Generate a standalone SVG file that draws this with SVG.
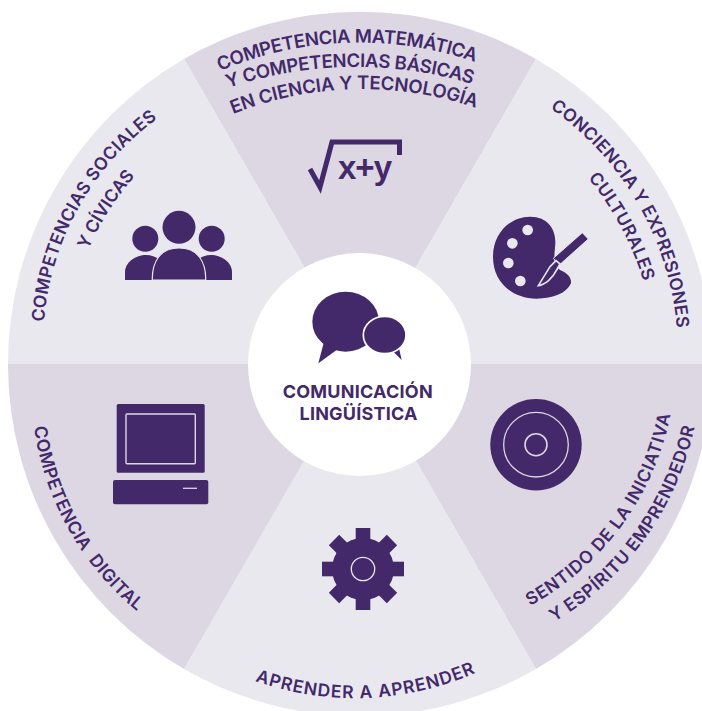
<svg xmlns="http://www.w3.org/2000/svg" width="702" height="711" viewBox="0 0 702 711">
<style>
.d{fill:#DCD7E3}.l{fill:#E9E8EF}.p{fill:#43296A}
text{font-family:Inter,"Noto Sans","Liberation Sans",sans-serif;font-weight:600;fill:#43296A;white-space:pre}
.a{font-size:18.5px}.b{font-size:17.5px}
</style>
<defs>
<path id="t1" d="M220 71 A355 355 0 0 1 475 62"/>
<path id="t2" d="M228 88 A400 400 0 0 1 472 84"/>
<path id="t3" d="M233 114 A350 350 0 0 1 476 108"/>
<path id="t4" d="M550 108 A300 300 0 0 1 677 330"/>
<path id="t5" d="M588 178 A300 300 0 0 1 643 280"/>
<path id="t6" d="M44 322 A280 280 0 0 1 158 118"/>
<path id="t7" d="M88 250 A280 280 0 0 1 135 176"/>
<path id="t8" d="M530 606 A280 280 0 0 0 671 412"/>
<path id="t9" d="M554 622 A300 300 0 0 0 695 425"/>
<path id="t10" d="M34 427 A290 290 0 0 0 138 612"/>
<path id="t11" d="M255 681 A300 300 0 0 0 475 673"/>
</defs>
<g id="wedges">
<path class="d" d="M360 364 L184 59 A352 352 0 0 1 536 59 Z"/>
<path class="l" d="M360 364 L536 59 A352 352 0 0 1 712 364 Z"/>
<path class="d" d="M360 364 L712 364 A352 352 0 0 1 536 669 Z"/>
<path class="l" d="M360 364 L536 669 A352 352 0 0 1 184 669 Z"/>
<path class="d" d="M360 364 L184 669 A352 352 0 0 1 8 364 Z"/>
<path class="l" d="M360 364 L8 364 A352 352 0 0 1 184 59 Z"/>
</g>
<g id="matematica">
<text class="a"><textPath href="#t1" textLength="261">COMPETENCIA MATEMÁTICA</textPath></text>
<text class="a"><textPath href="#t2" textLength="248">Y COMPETENCIAS BÁSICAS</textPath></text>
<text class="a"><textPath href="#t3" textLength="248">EN CIENCIA Y TECNOLOGÍA</textPath></text>
<path d="M310 169 L320 187 L332 142 H399.5 V155" fill="none" stroke="#43296A" stroke-width="5"/>
<text x="338" y="179" font-size="33" textLength="54" style="font-family:'Liberation Sans',sans-serif;font-weight:700">x+y</text>
</g>
<g id="cultura">
<text class="b"><textPath href="#t4" textLength="262">CONCIENCIA Y EXPRESIONES</textPath></text>
<text class="b"><textPath href="#t5" textLength="118">CULTURALES</textPath></text>
<g transform="translate(470 90) scale(.3333)">
<path class="p" d="M180 380 C235 380 258 420 256 460 C255 490 245 520 270 540 C295 550 305 565 303 580 C290 610 250 625 200 626 C120 626 68 570 69 500 C69 430 120 380 180 380 Z"/>
<g class="l"><circle cx="173" cy="420" r="16"/><circle cx="127" cy="460" r="16"/><circle cx="115" cy="519" r="16"/><circle cx="151" cy="573" r="16"/></g>
<path class="p" d="M337 428 L355 447 L268 525 L250 505 Z" stroke="#E9E8EF" stroke-width="3"/>
<path class="p" d="M258 512 L240 530 L205 587 C225 585 248 565 260 540 L270 522 Z" stroke="#E9E8EF" stroke-width="5"/>
</g>
</g>
<g id="iniciativa">
<text class="b"><textPath href="#t8" textLength="245">SENTIDO DE LA INICIATIVA</textPath></text>
<text class="b"><textPath href="#t9" textLength="247">Y ESPÍRITU EMPRENDEDOR</textPath></text>
<circle class="p" cx="536" cy="444.7" r="45.7"/>
<circle cx="536" cy="444.7" r="32.3" fill="none" stroke="#DCD7E3" stroke-width="1.3"/>
<circle cx="536" cy="444.7" r="11" fill="none" stroke="#DCD7E3" stroke-width="1.6"/>
</g>
<g id="aprender">
<text class="b"><textPath href="#t11" textLength="226">APRENDER A APRENDER</textPath></text>
<circle class="p" cx="363" cy="569" r="31"/>
<g class="p">
<rect x="355.7" y="528" width="14.6" height="82"/>
<rect x="355.7" y="528" width="14.6" height="82" transform="rotate(45 363 569)"/>
<rect x="355.7" y="528" width="14.6" height="82" transform="rotate(90 363 569)"/>
<rect x="355.7" y="528" width="14.6" height="82" transform="rotate(135 363 569)"/>
</g>
<circle cx="363" cy="569" r="11.7" fill="none" stroke="#E9E8EF" stroke-width="1.3"/>
</g>
<g id="digital">
<text class="b"><textPath href="#t10" textLength="216">COMPETENCIA  DIGITAL</textPath></text>
<rect class="p" x="116.7" y="404" width="88" height="68.7" rx="1.5"/>
<rect x="126" y="414" width="69.3" height="49.7" rx="1" fill="none" stroke="#DCD7E3" stroke-width="1.4"/>
<rect class="p" x="113" y="480" width="95.3" height="24.3" rx="2"/>
<path d="M183 488.3 H197" stroke="#DCD7E3" stroke-width="1.3"/>
</g>
<g id="sociales">
<text class="b"><textPath href="#t6" textLength="240">COMPETENCIAS SOCIALES</textPath></text>
<text class="b"><textPath href="#t7" textLength="88">Y CÍVICAS</textPath></text>
<circle class="p" cx="179" cy="227.3" r="16.5"/>
<circle class="p" cx="145.3" cy="238.7" r="13"/>
<circle class="p" cx="211.7" cy="238.7" r="13"/>
<path class="p" d="M125 280 V272 C125 262 136 255 146 255 C156 255 165 262 170 272 V280 Z"/>
<path class="p" d="M232 280 V272 C232 262 221 255 211 255 C201 255 192 262 187 272 V280 Z"/>
<path class="p" d="M152.3 280 C152 262 160 248 179 248 C198 248 206 262 205.7 280 Z" stroke="#E9E8EF" stroke-width="1.2"/>
</g>
<g id="comunicacion">
<circle cx="359.5" cy="364.5" r="111.5" fill="#fff"/>
<g transform="translate(240 250) scale(.3333)">
<path class="p" d="M252 275 L235 340 L290 300 Z"/>
<ellipse class="p" cx="317" cy="215" rx="100" ry="90"/>
<path class="p" d="M455 300 L485 330 L475 285 Z"/>
<ellipse class="p" cx="434" cy="255" rx="64" ry="56" stroke="#fff" stroke-width="5"/>
</g>
<text x="357.7" y="397.5" font-size="18" text-anchor="middle" textLength="150" style="font-weight:700">COMUNICACIÓN</text>
<text x="358.5" y="420" font-size="18" text-anchor="middle" textLength="118" style="font-weight:700">LINGÜÍSTICA</text>
</g>
</svg>
